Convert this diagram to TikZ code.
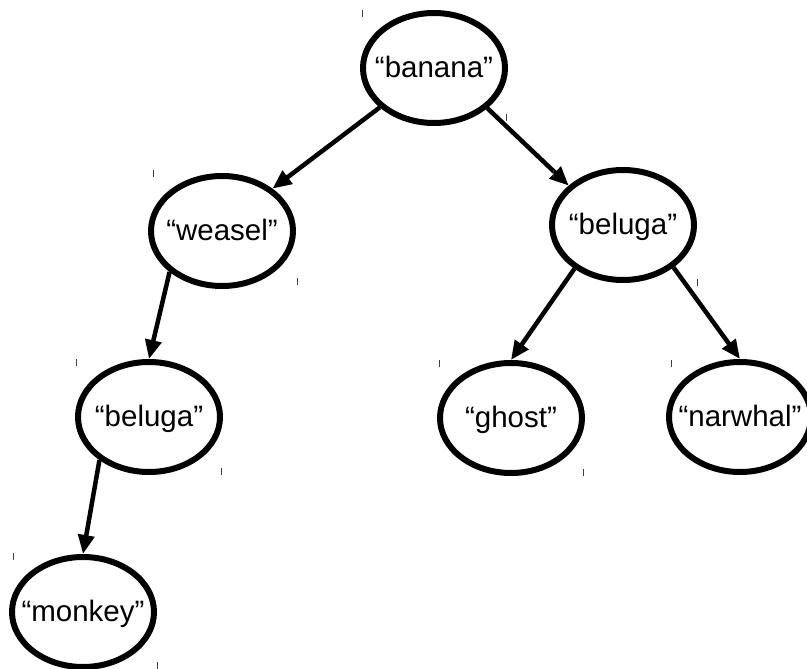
\documentclass[tikz,border=0pt]{standalone}
\usepackage{fontspec}
\setmainfont{Liberation Sans}
\usetikzlibrary{shapes.geometric,arrows.meta}
% label with zero width and a fixed height, so every word sits on the same baseline
\newcommand{\wordlbl}[1]{\makebox[0pt]{\rule{0pt}{19pt}\smash{#1}}}
\tikzset{
  treenode/.style={ellipse, draw=black, fill=white, line width=6pt,
    minimum width=142pt, minimum height=110pt, inner sep=0pt,
    font=\fontsize{29.5}{34}\selectfont},
  treeedge/.style={line width=4.5pt, -{Triangle[length=19pt,width=16pt]}},
  tick/.style={draw=black!75, line width=1pt}
}
\begin{document}
\begin{tikzpicture}[x=1pt,y=-1pt]
  \useasboundingbox (0,0) rectangle (807,669);
  \clip (0,0) rectangle (807,669);
  \fill[white] (0,0) rectangle (807,669);

  % nodes of the tree
  \node[treenode] (banana)  at (434,68)  {\wordlbl{“banana”}};
  \node[treenode] (weasel)  at (222,231) {\wordlbl{“weasel”}};
  \node[treenode] (belugaR) at (623,225) {\wordlbl{“beluga”}};
  \node[treenode] (belugaL) at (149,417) {\wordlbl{“beluga”}};
  \node[treenode] (ghost)   at (511,418) {\wordlbl{“ghost”}};
  \node[treenode] (narwhal) at (740,417) {\wordlbl{“narwhal”}};
  \node[treenode] (monkey)  at (83,612)  {\wordlbl{“monkey”}};

  % parent -> child links
  \draw[treeedge] (banana.216) -- (weasel.40);
  \draw[treeedge] (banana.323) -- (belugaR.144);
  \draw[treeedge] (weasel.218) -- (belugaL.north);
  \draw[treeedge] (belugaR.222) -- (ghost.north);
  \draw[treeedge] (belugaR.320) -- (narwhal.north);
  \draw[treeedge] (belugaL.221) -- (monkey.north);

  % small corner marks
  \foreach \x/\y in {362/10, 506/114, 153/170, 297/278, 553/170, 697/279,
                     76/359, 221/468, 439/360, 583/469, 671/360, 13/553, 157/662}
    \draw[tick] (\x,\y) -- ++(0,7);
\end{tikzpicture}
\end{document}
